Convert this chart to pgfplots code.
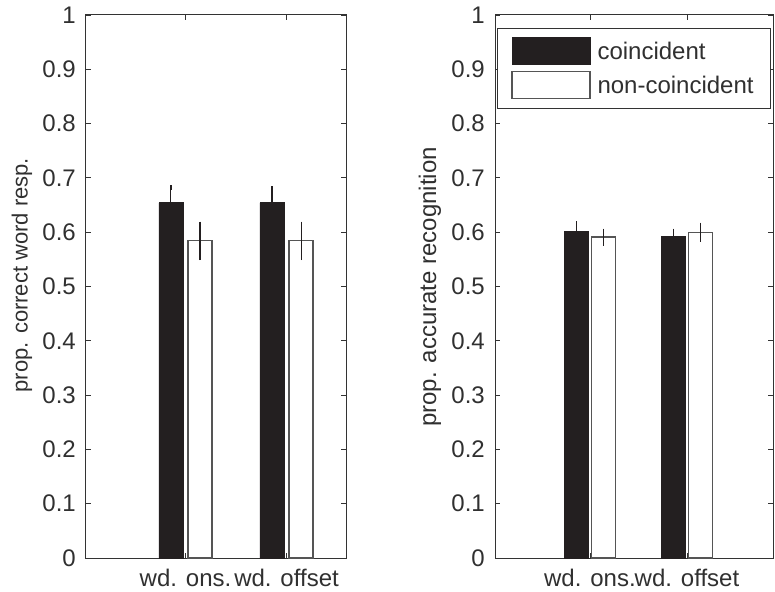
\documentclass[border=0pt]{standalone}
\usepackage{pgfplots}
\pgfplotsset{compat=1.18}
\usepackage{fontspec}
\setmainfont{Liberation Sans}
\definecolor{barblack}{HTML}{231F20}
\definecolor{edgegray}{HTML}{555555}
\definecolor{axgray}{HTML}{333333}
\definecolor{txtgray}{HTML}{303030}
\pgfplotsset{
  myaxis/.style={
    scale only axis,
    height=543bp,
    ymin=0, ymax=1,
    ytick={0,0.1,0.2,0.3,0.4,0.5,0.6,0.7,0.8,0.9,1},
    yticklabels={0,0.1,0.2,0.3,0.4,0.5,0.6,0.7,0.8,0.9,1},
    xtick={1,2},
    xticklabels={wd. ons.,wd. offset},
    tick align=inside,
    major tick length=5bp,
    axis line style={axgray, line width=1bp},
    tick style={axgray, line width=0.8bp},
    font=\fontsize{24bp}{28bp}\selectfont,
    every tick label/.append style={text=txtgray},
    yticklabel style={inner sep=0pt, xshift=-10bp},
    xticklabel style={inner sep=0pt, yshift=-11bp},
    label style={text=txtgray},
    /pgf/number format/assume math mode=true,
    axis background/.style={fill=white},
    clip=false,
  },
  blackbar/.style={ybar, bar width=24bp, bar shift=0pt, fill=barblack, draw=barblack, line width=0.8bp,
    error bars/y dir=both, error bars/y explicit,
    error bars/error bar style={line width=1.1bp, color=barblack},
    error bars/error mark options={mark size=2.5bp, line width=1.1bp, color=barblack}},
  whitebar/.style={ybar, bar width=24bp, bar shift=0pt, fill=white, draw=edgegray, line width=1.2bp,
    error bars/y dir=both, error bars/y explicit,
    error bars/error bar style={line width=1.1bp, color=barblack},
    error bars/error mark options={mark size=2.5bp, line width=1.1bp, color=barblack}},
}
\begin{document}
\begin{tikzpicture}
\useasboundingbox (-86bp,-34bp) rectangle (689bp,558bp);
% left panel
\begin{axis}[myaxis,
  width=260bp,
  at={(0bp,0bp)}, anchor=south west,
  xmin=0.015, xmax=2.589,
  ylabel={prop. correct word resp.},
  ylabel style={at={(axis description cs:-0.246,0.521)}, anchor=center, font=\fontsize{22bp}{26bp}\selectfont},
]
\addplot[blackbar] coordinates {
  (0.856,0.654) +- (0,0.028)
  (1.856,0.654) +- (0,0.026)
};
\addplot[whitebar] coordinates {
  (1.144,0.584) +- (0,0.031)
  (2.144,0.584) +- (0,0.031)
};
\end{axis}
% right panel
\begin{axis}[myaxis,
  width=278bp,
  at={(409bp,0bp)}, anchor=south west,
  xmin=0.021, xmax=2.887,
  ylabel={prop. accurate recognition},
  ylabel style={at={(axis description cs:-0.234,0.499)}, anchor=center},
  legend cell align=left,
  legend style={at={(1,1)}, anchor=north east, xshift=-2bp, yshift=-13bp,
    draw=axgray, line width=0.8bp, inner xsep=14bp, inner ysep=9bp,
    row sep=6bp, column sep=4bp, nodes={inner sep=3bp, text=txtgray},
    font=\fontsize{24bp}{28bp}\selectfont},
  legend image code/.code={\draw[#1] (0bp,-13.5bp) rectangle (78bp,13.5bp);},
]
\addplot[blackbar] coordinates {
  (0.861,0.602) +- (0,0.014)
  (1.861,0.592) +- (0,0.010)
};
\addlegendentry{coincident}
\addplot[whitebar] coordinates {
  (1.139,0.591) +- (0,0.011)
  (2.139,0.600) +- (0,0.013)
};
\addlegendentry{non-coincident}
\end{axis}
\end{tikzpicture}
\end{document}
